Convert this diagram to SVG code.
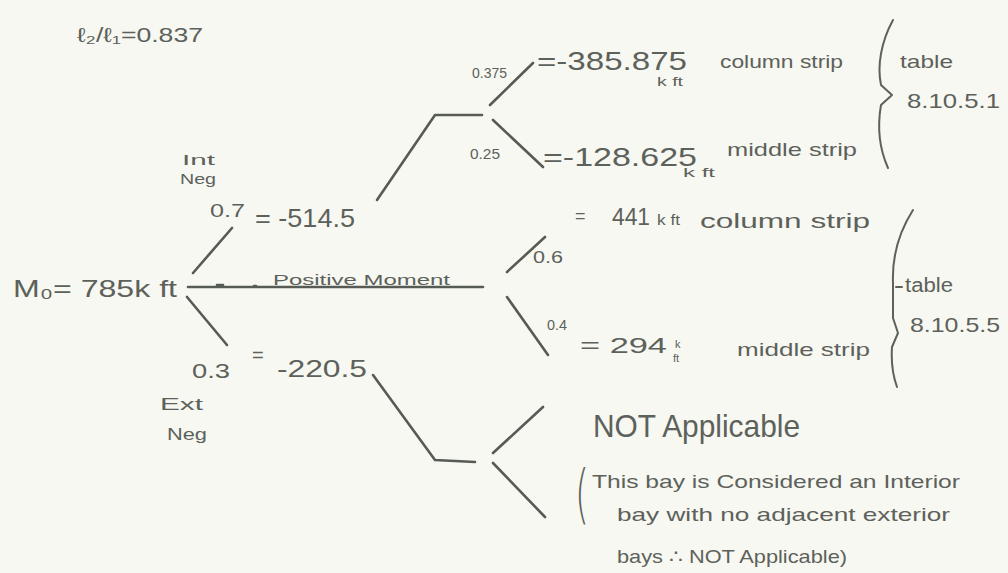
<svg xmlns="http://www.w3.org/2000/svg" width="1008" height="573" viewBox="0 0 1008 573">
<style>
text{font-family:"Liberation Sans","DejaVu Sans",sans-serif;fill:#5d615b}
.ln{fill:none;stroke:#575b55;stroke-width:2.6;stroke-linecap:round;stroke-linejoin:round}
.br{fill:none;stroke:#5d615b;stroke-width:2;stroke-linecap:round;stroke-linejoin:round}
.thin{font-family:"DejaVu Sans",sans-serif;font-weight:200}
</style>
<rect width="1008" height="573" fill="#f7f8f1"/>
<g id="ratio"><text x="77" y="42" font-size="20" textLength="126" lengthAdjust="spacingAndGlyphs">ℓ₂/ℓ₁=0.837</text></g>
<g id="root"><text x="13" y="297" font-size="24" textLength="164" lengthAdjust="spacingAndGlyphs">M₀= 785k ft</text></g>
<g id="int-neg">
<text x="182" y="165" font-size="14" textLength="33" lengthAdjust="spacingAndGlyphs">Int</text>
<text x="180" y="184" font-size="14" textLength="36" lengthAdjust="spacingAndGlyphs">Neg</text>
<text x="210" y="217" font-size="18" textLength="35" lengthAdjust="spacingAndGlyphs">0.7</text>
<text x="255" y="227" font-size="26" textLength="100" lengthAdjust="spacingAndGlyphs">= -514.5</text>
</g>
<g id="positive"><text x="273" y="285" font-size="15" textLength="177" lengthAdjust="spacingAndGlyphs">Positive Moment</text></g>
<g id="ext-neg">
<text x="192" y="378" font-size="20" textLength="38" lengthAdjust="spacingAndGlyphs">0.3</text>
<text x="252" y="362" font-size="20">=</text>
<text x="277" y="377" font-size="24" textLength="90" lengthAdjust="spacingAndGlyphs">-220.5</text>
<text x="160" y="410" font-size="16" textLength="43" lengthAdjust="spacingAndGlyphs">Ext</text>
<text x="167" y="440" font-size="16" textLength="40" lengthAdjust="spacingAndGlyphs">Neg</text>
</g>
<g id="int-col">
<text x="472" y="78" font-size="14" textLength="35" lengthAdjust="spacingAndGlyphs">0.375</text>
<text x="537" y="70" font-size="25" textLength="150" lengthAdjust="spacingAndGlyphs">=-385.875</text>
<text x="657" y="86" font-size="13" textLength="26" lengthAdjust="spacingAndGlyphs">k ft</text>
<text x="720" y="68" font-size="19" textLength="123" lengthAdjust="spacingAndGlyphs">column strip</text>
</g>
<g id="int-mid">
<text x="470" y="159" font-size="14" textLength="30" lengthAdjust="spacingAndGlyphs">0.25</text>
<text x="543" y="166" font-size="26" textLength="154" lengthAdjust="spacingAndGlyphs">=-128.625</text>
<text x="683" y="177" font-size="12" textLength="32" lengthAdjust="spacingAndGlyphs">k ft</text>
<text x="727" y="156" font-size="19" textLength="130" lengthAdjust="spacingAndGlyphs">middle strip</text>
</g>
<g id="table-1">
<path class="br" d="M893,20 C881,42 877,66 881,85 L892,95 L881,105 C877,128 880,150 888,168"/>
<text x="900" y="68" font-size="19" textLength="53" lengthAdjust="spacingAndGlyphs">table</text>
<text x="907" y="108" font-size="21" textLength="93" lengthAdjust="spacingAndGlyphs">8.10.5.1</text>
</g>
<g id="pos-col">
<text x="533" y="263" font-size="16" textLength="30" lengthAdjust="spacingAndGlyphs">0.6</text>
<text x="575" y="222" font-size="18">=</text>
<text x="612" y="225" font-size="24" textLength="38" lengthAdjust="spacingAndGlyphs">441</text>
<text x="657" y="225" font-size="14" textLength="23" lengthAdjust="spacingAndGlyphs">k ft</text>
<text x="700" y="228" font-size="20" textLength="170" lengthAdjust="spacingAndGlyphs">column strip</text>
</g>
<g id="pos-mid">
<text x="547" y="330" font-size="15" textLength="20" lengthAdjust="spacingAndGlyphs">0.4</text>
<text x="580" y="353" font-size="22" textLength="87" lengthAdjust="spacingAndGlyphs">= 294</text>
<text x="675" y="348" font-size="11">k</text>
<text x="673" y="362" font-size="11">ft</text>
<text x="737" y="356" font-size="19" textLength="133" lengthAdjust="spacingAndGlyphs">middle strip</text>
</g>
<g id="table-2">
<path class="br" d="M913,210 C899,232 892,258 893,283 L893,318 L898,333 L892,347 C891,362 893,376 897,387"/>
<line class="br" x1="896" y1="287" x2="902" y2="287"/>
<text x="905" y="292" font-size="20" textLength="48" lengthAdjust="spacingAndGlyphs">table</text>
<text x="910" y="332" font-size="21" textLength="90" lengthAdjust="spacingAndGlyphs">8.10.5.5</text>
</g>
<g id="not-applicable">
<text x="593" y="437" font-size="32" textLength="207" lengthAdjust="spacingAndGlyphs">NOT Applicable</text>
<text class="thin" x="575" y="516" font-size="64" textLength="14" lengthAdjust="spacingAndGlyphs">(</text>
<text x="592" y="488" font-size="19" textLength="368" lengthAdjust="spacingAndGlyphs">This bay is Considered an Interior</text>
<text x="617" y="521" font-size="19" textLength="333" lengthAdjust="spacingAndGlyphs">bay with no adjacent exterior</text>
<text x="617" y="563" font-size="19" textLength="230" lengthAdjust="spacingAndGlyphs">bays ∴ NOT Applicable)</text>
</g>
<g id="connectors">
<line class="ln" x1="193" y1="273" x2="232" y2="228"/>
<line class="ln" x1="188" y1="287" x2="483" y2="287"/>
<line class="ln" x1="217" y1="285" x2="223" y2="285"/>
<line class="ln" x1="254" y1="286" x2="256" y2="286"/>
<line class="ln" x1="187" y1="297" x2="227" y2="345"/>
<polyline class="ln" points="377,200 435,115 482,115"/>
<line class="ln" x1="490" y1="105" x2="533" y2="63"/>
<line class="ln" x1="493" y1="120" x2="543" y2="167"/>
<line class="ln" x1="507" y1="272" x2="545" y2="237"/>
<line class="ln" x1="507" y1="297" x2="548" y2="355"/>
<polyline class="ln" points="373,375 435,460 475,462"/>
<line class="ln" x1="493" y1="453" x2="543" y2="407"/>
<line class="ln" x1="493" y1="463" x2="545" y2="517"/>
</g>
</svg>
